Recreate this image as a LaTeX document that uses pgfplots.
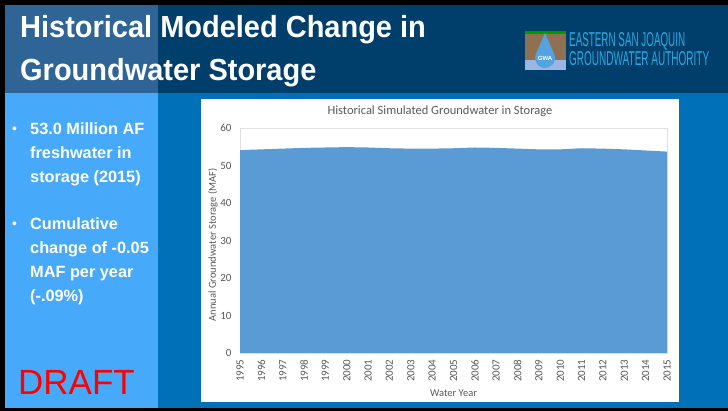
\documentclass[border=0pt]{standalone}
\usepackage{pgfplots}
\pgfplotsset{compat=1.18}
\usepackage{fontspec}
\setmainfont{Liberation Sans}
\newfontfamily\calibri{Carlito}
\definecolor{navy}{RGB}{0,63,107}
\definecolor{headleft}{RGB}{46,100,150}
\definecolor{bodyblue}{RGB}{0,112,184}
\definecolor{lightblue}{RGB}{71,169,250}
\definecolor{areablue}{RGB}{91,155,213}
\definecolor{tickgray}{RGB}{89,89,89}
\definecolor{logocyan}{RGB}{42,169,224}
\begin{document}
\begin{tikzpicture}[x=1pt,y=1pt]
% background
\fill[black] (0,0) rectangle (728,411);
\fill[bodyblue] (5,3) rectangle (728,318);
\fill[lightblue] (5,3) rectangle (158,318);
\fill[navy] (5,318) rectangle (728,406);
\fill[headleft] (5,318) rectangle (158,406);
% title
\node[anchor=base west, text=white, font=\bfseries\fontsize{30.5}{31}\selectfont, inner sep=0, xscale=0.95] at (20,411-37.5) {Historical Modeled Change in};
\node[anchor=base west, text=white, font=\bfseries\fontsize{30.5}{31}\selectfont, inner sep=0, xscale=0.95] at (20,411-81) {Groundwater Storage};
% logo
\fill[brown!60!black!80] (525,411-70) rectangle (566,411-31);
\fill[green!60!black] (525,411-34) rectangle (566,411-31);
\fill[cyan!50!blue!40] (525,411-70) rectangle (566,411-60);
\fill[cyan!70!blue!70] (545,411-33) -- (536.34,411-53) arc[start angle=150, end angle=390, radius=10] -- cycle;
\node[text=white, font=\bfseries\fontsize{6}{6}\selectfont, inner sep=0] at (545,411-58) {GWA};
\node[anchor=base west, inner sep=0, text=logocyan] at (569,411-47) {\resizebox{116pt}{14pt}{EASTERN SAN JOAQUIN}};
\node[anchor=base west, inner sep=0, text=logocyan] at (569,411-66) {\resizebox{140pt}{14pt}{GROUNDWATER AUTHORITY}};
% bullets
\begin{scope}[every node/.style={anchor=base west, text=white, inner sep=0, font=\bfseries\fontsize{16.3}{18}\selectfont}]
\node at (30,411-135) {53.0 Million AF};
\node at (30,411-159) {freshwater in};
\node at (30,411-183) {storage (2015)};
\node at (30,411-230) {Cumulative};
\node at (30,411-254) {change of -0.05};
\node at (30,411-278) {MAF per year};
\node at (30,411-302) {(-.09\%)};
\node[font=\fontsize{14}{14}\selectfont] at (12,411-134) {•};
\node[font=\fontsize{14}{14}\selectfont] at (12,411-229) {•};
\end{scope}
\node[anchor=base west, text=red, inner sep=0, font=\fontsize{35}{35}\selectfont] at (18,411-395) {DRAFT};
% chart box
\fill[white] (201,9) rectangle (679,312);
\node[font=\calibri\fontsize{12.5}{13}\selectfont, text=tickgray] at (440,411-111) {Historical Simulated Groundwater in Storage};
\begin{axis}[
  at={(240pt,58pt)}, anchor=south west,
  scale only axis, width=427pt, height=225pt,
  xmin=1995, xmax=2015, ymin=0, ymax=60,
  xtick={1995,1996,...,2015}, ytick={0,10,...,60},
  /pgf/number format/assume math mode=true,
  /pgf/number format/set thousands separator={},
  major tick length=0pt,
  axis line style={draw=gray!25},
  tick label style={font=\calibri\fontsize{11}{12}\selectfont, text=tickgray},
  x tick label style={rotate=90, anchor=east},
  xticklabel shift=3pt,
  yticklabel shift=5pt,
  xlabel={Water Year},
  ylabel={Annual Groundwater Storage (MAF)},
  label style={font=\calibri\fontsize{10.5}{11}\selectfont, text=tickgray},
  xlabel style={at={(axis description cs:0.5,0)}, anchor=center, yshift=-40pt},
  ylabel style={at={(axis description cs:0,0.48)}, anchor=center, yshift=27pt},
]
\addplot[fill=areablue, draw=none] coordinates {
(1995,54.1) (1996,54.3) (1997,54.5) (1998,54.7) (1999,54.8) (2000,54.9)
(2001,54.8) (2002,54.6) (2003,54.5) (2004,54.5) (2005,54.6) (2006,54.8)
(2007,54.7) (2008,54.5) (2009,54.3) (2010,54.3) (2011,54.6) (2012,54.5)
(2013,54.3) (2014,54.0) (2015,53.7)
} \closedcycle;
\end{axis}
\end{tikzpicture}
\end{document}
